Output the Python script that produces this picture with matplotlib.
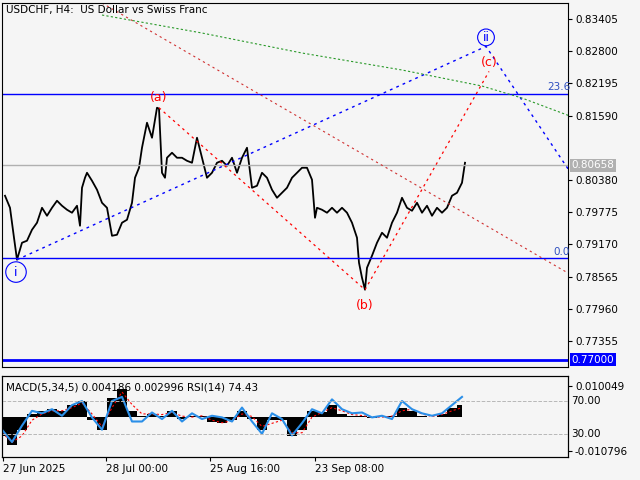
import matplotlib.pyplot as plt
import numpy as np

# price path (bar index ~ pixel column)
px = [3, 8, 12, 15, 20, 25, 30, 35, 40, 45, 50, 55, 60, 65, 70, 75, 78, 80, 83, 85, 90, 95,
      100, 105, 110, 115, 120, 125, 130, 133, 137, 140, 145, 150, 155, 157, 160, 163, 165, 170,
      175, 180, 185, 190, 195, 200, 205, 210, 215, 220, 225, 230, 235, 240, 245, 250, 255, 260,
      265, 270, 275, 280, 285, 290, 295, 300, 305, 310, 313, 315, 320, 325, 330, 335, 340, 345,
      350, 355, 357, 360, 363, 365, 370, 375, 380, 385, 390, 395, 400, 405, 410, 415, 420, 425,
      430, 435, 440, 445, 450, 455, 460, 463]
price = [0.80084, 0.79858, 0.79295, 0.78882, 0.79201, 0.79239, 0.79445, 0.79577, 0.79858, 0.79708,
         0.79858, 0.79990, 0.79896, 0.79821, 0.79765, 0.79896, 0.79520, 0.80234, 0.80422, 0.80516,
         0.80366, 0.80197, 0.79952, 0.79858, 0.79332, 0.79351, 0.79577, 0.79633, 0.79952, 0.80422,
         0.80610, 0.80986, 0.81456, 0.81174, 0.81738, 0.81720, 0.80516, 0.80422, 0.80798, 0.80892,
         0.80798, 0.80798, 0.80741, 0.80704, 0.81174, 0.80798, 0.80422, 0.80516, 0.80704, 0.80741,
         0.80647, 0.80798, 0.80516, 0.80798, 0.80986, 0.80234, 0.80272, 0.80516, 0.80422, 0.80197,
         0.80046, 0.80140, 0.80234, 0.80422, 0.80516, 0.80610, 0.80610, 0.80385, 0.79670, 0.79858,
         0.79821, 0.79765, 0.79858, 0.79765, 0.79858, 0.79765, 0.79577, 0.79295, 0.78825, 0.78543,
         0.78318, 0.78731, 0.78957, 0.79201, 0.79389, 0.79295, 0.79577, 0.79765, 0.80046, 0.79858,
         0.79802, 0.79952, 0.79765, 0.79896, 0.79708, 0.79858, 0.79765, 0.79858, 0.80084, 0.80140,
         0.80328, 0.80704]

# indicator samples every 10 bars
ix = list(range(0, 470, 10))
rsi = [35, 20, 40, 58, 55, 60, 52, 65, 70, 50, 35, 70, 75, 45, 45, 56, 48, 58, 45, 55, 48, 52,
       50, 45, 62, 45, 30, 55, 48, 28, 43, 60, 55, 72, 60, 55, 56, 50, 52, 48, 70, 60, 55, 52,
       55, 65, 75]
macd = [-0.006, -0.009, -0.004, 0.001, 0.002, 0.0025, 0.002, 0.004, 0.005, -0.001, -0.004, 0.006,
        0.009, 0.002, 0.0005, 0.001, 0.0005, 0.002, -0.0005, 0.0003, 0.0005, -0.0015, -0.002,
        -0.001, 0.002, -0.0005, -0.004, -0.001, -0.001, -0.006, -0.004, 0.002, 0.0015, 0.004,
        0.001, 0.0005, 0.0005, -0.0002, 0.0, 0.0005, 0.003, 0.002, 0.0005, 0.0, 0.001, 0.003, 0.004]
signal = [-0.005, -0.008, -0.006, -0.001, 0.001, 0.002, 0.002, 0.003, 0.0045, 0.001, -0.003, 0.003,
          0.008, 0.004, 0.001, 0.001, 0.0008, 0.0015, 0.0003, 0.0, 0.0004, -0.001, -0.0018,
          -0.0012, 0.001, 0.0002, -0.003, -0.002, -0.001, -0.005, -0.005, 0.0, 0.0015, 0.003,
          0.002, 0.0008, 0.0005, 0.0, 0.0, 0.0003, 0.002, 0.0025, 0.001, 0.0002, 0.0008, 0.002, 0.003]

yticks = [0.83405, 0.82800, 0.82195, 0.81590, 0.80380, 0.79775, 0.79170, 0.78565,
          0.77960, 0.77355]
date_pos = [1, 104, 208, 313]
date_labels = ["27 Jun 2025", "28 Jul 00:00", "25 Aug 16:00", "23 Sep 08:00"]

BG = "#f5f5f5"
FS = 7.5
plt.rcParams["font.family"] = "DejaVu Sans"
fig = plt.figure(figsize=(6.4, 4.8), dpi=100)
fig.patch.set_facecolor(BG)

ax = fig.add_axes([2 / 640, 113 / 480, 566 / 640, 364 / 480])
ax.set_facecolor(BG)
ax.set_xlim(0, 566)
ax.set_ylim(0.76866, 0.83706)
ax.plot(px, price, color="black", lw=1.3)

ax.axhline(0.8200, color="blue", lw=1)
ax.axhline(0.7891, color="blue", lw=1)
ax.axhline(0.7700, color="blue", lw=2)
ax.axhline(0.80658, color="#b0b0b0", lw=1)

ax.plot([15, 484, 568], [0.78882, 0.82890, 0.80534], color="blue", ls=(0, (2, 3)), lw=1)
ax.plot([157, 363, 487], [0.81738, 0.78318, 0.82420], color="red", ls=(0, (2, 3)), lw=0.9)
ax.plot([100, 568], [0.83706, 0.78610], color="#d03030", ls=(0, (2, 3)), lw=0.8)
ax.plot([100, 200, 300, 400, 480, 520, 568], [0.83480, 0.83142, 0.82766, 0.82447, 0.82146, 0.81920, 0.81582],
        color="#2a9a2a", ls=(0, (2, 2)), lw=0.8)

ax.text(568, 0.8200 + 0.0003, "23.6", color="#3050c0", fontsize=FS, ha="right", va="bottom")
ax.text(568, 0.7891 + 0.0003, "0.0", color="#3050c0", fontsize=FS, ha="right", va="bottom")
ax.text(157, 0.8193, "(a)", color="red", fontsize=9, ha="center", va="center")
ax.text(363, 0.7802, "(b)", color="red", fontsize=9, ha="center", va="center")
ax.text(487, 0.8258, "(c)", color="red", fontsize=9, ha="center", va="center")
ax.text(484, 0.8306, "ii", color="blue", fontsize=9, ha="center", va="center",
        bbox=dict(boxstyle="circle,pad=0.15", fc="none", ec="blue", lw=0.8))
ax.text(14, 0.7865, "i", color="blue", fontsize=9, ha="center", va="center",
        bbox=dict(boxstyle="circle,pad=0.3", fc="none", ec="blue", lw=0.8))
ax.text(4, 0.8357, "USDCHF, H4:  US Dollar vs Swiss Franc", fontsize=FS, va="center")

ax.yaxis.tick_right()
ax.set_yticks(yticks)
ax.set_yticklabels([f"{v:.5f}" for v in yticks], fontsize=FS)
ax.tick_params(axis="y", length=3, pad=2)
ax.set_xticks([])
ax.text(1.006, 0.80658, "0.80658", transform=ax.get_yaxis_transform(), fontsize=FS, va="center",
        color="white", bbox=dict(boxstyle="square,pad=0.15", fc="#b0b0b0", ec="none"))
ax.text(1.006, 0.7700, "0.77000", transform=ax.get_yaxis_transform(), fontsize=FS, va="center",
        color="white", bbox=dict(boxstyle="square,pad=0.15", fc="blue", ec="none"))

# indicator panel
ax2 = fig.add_axes([2 / 640, 23 / 480, 566 / 640, 81 / 480])
ax2.set_facecolor(BG)
ax2.set_xlim(0, 566)
ax2.set_ylim(-0.01272, 0.01309)
ax2.fill_between(ix, macd, 0, step="mid", color="black", lw=0)
ax2.plot(ix, signal, color="red", ls=(0, (2, 2)), lw=0.8)
ax3 = ax2.twinx()
ax3.set_ylim(1.7, 100.5)
ax3.plot(ix, rsi, color="#2b8fe8", lw=1.5)
ax3.axhline(70, color="#b8b8b8", ls="--", lw=0.7)
ax3.axhline(30, color="#b8b8b8", ls="--", lw=0.7)
ax3.set_yticks([])
ax2.yaxis.tick_right()
ax2.set_yticks([0.010049, -0.010796])
ax2.set_yticklabels(["0.010049", "-0.010796"], fontsize=FS)
ax2.tick_params(axis="y", length=3, pad=2)
for v in (70, 30):
    ax3.text(1.006, v, f"{v:.2f}", transform=ax3.get_yaxis_transform(), fontsize=FS, va="center")
ax2.text(4, 0.0095, "MACD(5,34,5) 0.004186 0.002996 RSI(14) 74.43", fontsize=FS, va="center")
ax2.set_xticks(date_pos)
ax2.set_xticklabels(date_labels, fontsize=FS, ha="left")
ax2.tick_params(axis="x", length=3, pad=2)

fig.savefig("out.png", dpi=100, facecolor=BG)
